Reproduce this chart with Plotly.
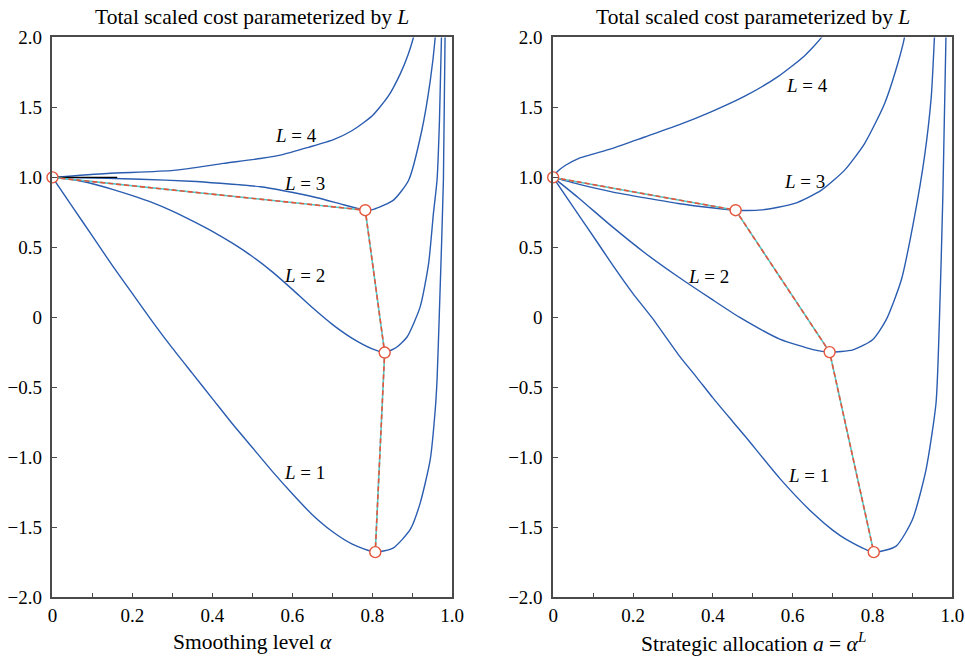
import plotly.graph_objects as go

# ---------------- data ----------------
# Left panel: cost vs smoothing level alpha
alpha_L1 = [0, 0.05, 0.1, 0.15, 0.2, 0.25, 0.3, 0.35, 0.4, 0.45, 0.5, 0.55, 0.6, 0.65, 0.7, 0.75, 0.8075,
            0.853, 0.895, 0.92, 0.945, 0.9575, 0.962, 0.968, 0.978, 0.9825]
cost_L1 = [1.0, 0.79, 0.58, 0.37, 0.17, -0.03, -0.22, -0.40, -0.58, -0.76, -0.93, -1.10, -1.26, -1.41,
           -1.53, -1.62, -1.677, -1.646, -1.515, -1.325, -1.016, -0.66, -0.45, 0.05, 0.98, 2.1]

alpha_L2 = [0, 0.05, 0.1, 0.15, 0.2, 0.25, 0.3, 0.35, 0.4, 0.45, 0.5, 0.55, 0.6, 0.65, 0.7, 0.75, 0.8,
            0.831, 0.86, 0.887, 0.92, 0.941, 0.953, 0.962, 0.968, 0.9735]
cost_L2 = [1.0, 0.985, 0.955, 0.915, 0.87, 0.82, 0.76, 0.69, 0.615, 0.53, 0.435, 0.325, 0.2, 0.07,
           -0.05, -0.15, -0.225, -0.251, -0.215, -0.14, 0.077, 0.386, 0.743, 0.98, 1.4, 2.05]

alpha_L3 = [0, 0.137, 0.22, 0.345, 0.42, 0.52, 0.578, 0.662, 0.728, 0.7825, 0.803, 0.853, 0.891, 0.924,
            0.945, 0.9575, 0.962]
cost_L3 = [1.0, 0.993, 0.987, 0.973, 0.958, 0.933, 0.905, 0.855, 0.805, 0.766, 0.772, 0.838, 0.98, 1.337,
           1.69, 2.0, 2.2]

alpha_L4 = [0, 0.137, 0.303, 0.428, 0.52, 0.578, 0.64, 0.703, 0.75, 0.8, 0.84, 0.87, 0.89, 0.903, 0.92]
cost_L4 = [1.0, 1.028, 1.05, 1.10, 1.135, 1.165, 1.215, 1.27, 1.335, 1.44, 1.58, 1.74, 1.88, 2.0, 2.2]

min_alpha = [0, 0.7825, 0.831, 0.8075]
min_cost = [1.0, 0.766, -0.251, -1.677]

ref_alpha = [0.007, 0.162]
ref_cost = [1.0, 1.0]

# Right panel: cost vs strategic allocation a = alpha^L
a_L1 = [0, 0.05, 0.105, 0.15, 0.2, 0.247, 0.3175, 0.36, 0.40, 0.45, 0.484, 0.5675, 0.651, 0.7, 0.734,
        0.803, 0.859, 0.90, 0.934, 0.959, 0.9675, 0.976, 0.9845]
c_L1 = [1.0, 0.79, 0.56, 0.37, 0.17, 0.0, -0.28, -0.43, -0.575, -0.745, -0.86, -1.15, -1.40, -1.52,
        -1.586, -1.677, -1.634, -1.444, -1.087, -0.612, -0.018, 0.861, 2.1]

a_L2 = [0, 0.063, 0.147, 0.23, 0.313, 0.397, 0.4675, 0.5675, 0.651, 0.6925, 0.751, 0.80, 0.834, 0.872,
        0.905, 0.93, 0.947, 0.955, 0.96]
c_L2 = [1.0, 0.855, 0.65, 0.46, 0.29, 0.13, 0.0, -0.155, -0.23, -0.248, -0.232, -0.16, -0.018,
        0.267, 0.719, 1.147, 1.574, 2.0, 2.3]

a_L3 = [0, 0.063, 0.147, 0.23, 0.313, 0.397, 0.457, 0.522, 0.605, 0.672, 0.73, 0.78, 0.83, 0.863, 0.88,
        0.89]
c_L3 = [1.0, 0.952, 0.897, 0.854, 0.814, 0.783, 0.766, 0.768, 0.814, 0.909, 1.052, 1.242, 1.527, 1.812,
        2.0, 2.2]

a_L4 = [0, 0.01, 0.03, 0.063, 0.147, 0.23, 0.313, 0.397, 0.48, 0.563, 0.63, 0.672, 0.69]
c_L4 = [1.0, 1.04, 1.085, 1.135, 1.206, 1.289, 1.373, 1.47, 1.58, 1.72, 1.87, 2.0, 2.1]

min_a = [0, 0.457, 0.6925, 0.803]
min_c = [1.0, 0.766, -0.248, -1.677]

label_texts = ["<i>L</i> = 1", "<i>L</i> = 2", "<i>L</i> = 3", "<i>L</i> = 4"]
left_label_x = [0.63, 0.63, 0.63, 0.61]
left_label_y = [-1.11, 0.3, 0.96, 1.30]
right_label_x = [0.64, 0.39, 0.63, 0.635]
right_label_y = [-1.13, 0.29, 0.97, 1.66]

x_tickvals = [0, 0.1, 0.2, 0.3, 0.4, 0.5, 0.6, 0.7, 0.8, 0.9, 1.0]
x_ticktext = ["0", " ", "0.2", " ", "0.4", " ", "0.6", " ", "0.8", " ", "1.0"]
y_tickvals = [-2, -1.5, -1, -0.5, 0, 0.5, 1, 1.5, 2]
y_ticktext = ["\u22122.0", "\u22121.5", "\u22121.0", "\u22120.5", "0", "0.5", "1.0", "1.5", "2.0"]

# ---------------- styling ----------------
W, H = 965, 658
# observed mapping from figure pixels to the photographed picture: pic = o + s * fig
OX, SX = 4.5, 0.983
OY, SY = 9.5, 0.970
BLUE = "#2a5cb0"
RED = "#e4553b"
CYAN = "#52c9c9"
AX = "#4a4a4a"
FONT = "Liberation Serif, 'Times New Roman', 'DejaVu Serif', serif"

fig = go.Figure()

def add_panel(xa, ya, curves, mx, my, extra=None):
    for xs, ys in curves:
        fig.add_trace(go.Scatter(x=xs, y=ys, mode="lines", xaxis=xa, yaxis=ya,
                                 line=dict(color=BLUE, width=1.4, shape="spline", smoothing=0.6),
                                 showlegend=False, hoverinfo="skip"))
    if extra is not None:
        fig.add_trace(go.Scatter(x=extra[0], y=extra[1], mode="lines", xaxis=xa, yaxis=ya,
                                 line=dict(color="black", width=1.3), showlegend=False))
    fig.add_trace(go.Scatter(x=mx, y=my, mode="lines", xaxis=xa, yaxis=ya,
                             line=dict(color=CYAN, width=1.6), showlegend=False))
    fig.add_trace(go.Scatter(x=mx, y=my, mode="lines", xaxis=xa, yaxis=ya,
                             line=dict(color=RED, width=1.6, dash="5px,3px"), showlegend=False))
    fig.add_trace(go.Scatter(x=mx, y=my, mode="markers", xaxis=xa, yaxis=ya, cliponaxis=False,
                             marker=dict(symbol="circle", size=11, color="white",
                                         line=dict(color=RED, width=1.4)),
                             showlegend=False))

add_panel("x", "y", [(alpha_L1, cost_L1), (alpha_L2, cost_L2), (alpha_L3, cost_L3), (alpha_L4, cost_L4)],
          min_alpha, min_cost, extra=(ref_alpha, ref_cost))
add_panel("x2", "y2", [(a_L1, c_L1), (a_L2, c_L2), (a_L3, c_L3), (a_L4, c_L4)], min_a, min_c)

# picture pixel -> paper fraction
def fx(p):
    return min(1.0, (p - OX) / SX / W)

def fy(p):
    return max(0.0, 1 - (p - OY) / SY / H)

def xd(p0, p1):
    return [fx(p0), fx(p1)]

def yd(p_top, p_bot):
    return [fy(p_bot), fy(p_top)]

axis_common = dict(showgrid=False, zeroline=False, showline=True, linecolor=AX, linewidth=1.5,
                   mirror=True, ticks="inside", ticklen=5, tickcolor=AX, tickwidth=1.2,
                   tickfont=dict(family=FONT, size=19, color="black"))

xcfg = dict(axis_common, range=[0, 1], tickmode="array", tickvals=x_tickvals, ticktext=x_ticktext)
ycfg = dict(axis_common, range=[-2, 2], tickmode="array", tickvals=y_tickvals, ticktext=y_ticktext,
            ticklabelstandoff=5)

fig.update_layout(
    width=W, height=H,
    margin=dict(l=0, r=0, t=0, b=0),
    paper_bgcolor="white", plot_bgcolor="white",
    xaxis=dict(xcfg, domain=xd(52, 452), anchor="y"),
    yaxis=dict(ycfg, domain=yd(37, 598), anchor="x"),
    xaxis2=dict(xcfg, domain=xd(553, 952.5), anchor="y2"),
    yaxis2=dict(ycfg, domain=yd(37, 598), anchor="x2"),
    font=dict(family=FONT, color="black"),
)

ann = []
for t, x, y in zip(label_texts, left_label_x, left_label_y):
    ann.append(dict(text=t, x=x, y=y, xref="x", yref="y", showarrow=False,
                    font=dict(family=FONT, size=19, color="black")))
for t, x, y in zip(label_texts, right_label_x, right_label_y):
    ann.append(dict(text=t, x=x, y=y, xref="x2", yref="y2", showarrow=False,
                    font=dict(family=FONT, size=19, color="black")))

titles = [(252, "Total scaled cost parameterized by <i>L</i>"),
          (753, "Total scaled cost parameterized by <i>L</i>")]
for px, t in titles:
    ann.append(dict(text=t, x=fx(px), y=fy(17), xref="paper", yref="paper", showarrow=False,
                    xanchor="center", yanchor="middle", font=dict(family=FONT, size=21.5, color="black")))
xtitles = [(252, "Smoothing level <i>\u03b1</i>"),
           (753, "Strategic allocation <i>a</i> = <i>\u03b1</i><sup><i>L</i></sup>")]
for px, t in xtitles:
    ann.append(dict(text=t, x=fx(px), y=fy(643), xref="paper", yref="paper", showarrow=False,
                    xanchor="center", yanchor="middle", font=dict(family=FONT, size=21.5, color="black")))

fig.update_layout(annotations=ann)

fig.write_html("out.html")
